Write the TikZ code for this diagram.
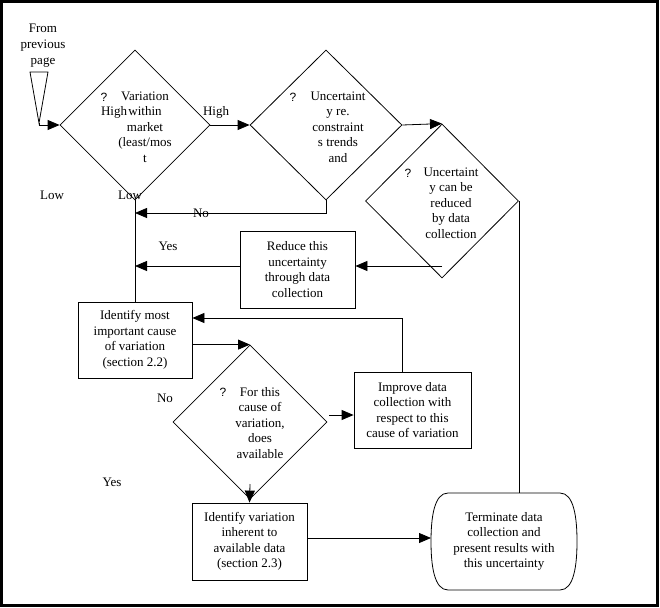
\documentclass[tikz,border=0pt]{standalone}
\usepackage{fontspec}
\setmainfont{Liberation Serif}
\newfontfamily\qfont{Liberation Sans}
\usetikzlibrary{shapes.geometric,arrows.meta}
\begin{document}
\begin{tikzpicture}[x=1pt,y=-1pt,
  every node/.style={font=\fontsize{13}{15.5}\selectfont, inner sep=0pt},
  dia/.style={draw, diamond, line width=0.8pt},
  box/.style={draw, rectangle, line width=0.8pt, align=center},
  txt/.style={align=center},
  qm/.style={font=\qfont\fontsize{12}{14}\selectfont},
  conn/.style={line width=0.8pt},
  arr/.style={conn, -{Triangle[length=12pt,width=10pt]}},
]
\useasboundingbox (0,0) rectangle (660,607);
\draw[line width=3pt] (1.5,1.5) rectangle (657,605.5);

% start
\node[txt, font=\fontsize{13}{16}\selectfont] (from) at (43,46) {From\\previous\\page};
\coordinate (t1) at (30,72);
\coordinate (t2) at (48,72);
\coordinate (tri) at (39,123);
\draw[conn] (t1) -- (t2) -- (tri) -- cycle;

% diamonds
\node[dia, minimum width=150pt, minimum height=150pt] (d1) at (135,125) {};
\node[dia, minimum width=152pt, minimum height=150pt] (d2) at (326,125) {};
\node[dia, minimum width=153pt, minimum height=154pt] (d3) at (442,201) {};
\node[dia, minimum width=154pt, minimum height=154pt] (d4) at (250,422) {};

\node[qm] (q1) at (104,97) {?};
\node[txt] (d1t) at (145,127) {Variation\\within\\market\\(least/mos\\t};
\node (hi1) at (114,112) {High};
\node[qm] (q2) at (293,97) {?};
\node[txt] (d2t) at (338,127) {Uncertaint\\y re.\\constraint\\s trends\\and};
\node[qm] (q3) at (408,173) {?};
\node[txt] (d3t) at (451,203) {Uncertaint\\y can be\\reduced\\by data\\collection};
\node[qm] (q4) at (223,392) {?};
\node[txt] (d4t) at (260,423) {For this\\cause of\\variation,\\does\\available};

% boxes
\node[box, minimum width=114pt, minimum height=76pt] (id1) at (135,340) {Identify most\\important cause\\of variation\\(section 2.2)};
\node[box, minimum width=115pt, minimum height=77pt] (red) at (297.5,269.5) {Reduce this\\uncertainty\\through data\\collection};
\node[box, minimum width=117pt, minimum height=76pt] (imp) at (412.5,410) {Improve data\\collection with\\respect to this\\cause of variation};
\node[box, minimum width=115pt, minimum height=77pt] (id2) at (249.5,541.5) {Identify variation\\inherent to\\available data\\(section 2.3)};

% terminator
\node[txt, minimum width=142pt, minimum height=97pt] (term) at (504,541.5) {Terminate data\\collection and\\present results with\\this uncertainty};
\draw[conn] (448,493) -- (560,493)
  .. controls (574,493) and (577,518) .. (577,541.5)
  .. controls (577,565) and (574,590) .. (560,590)
  -- (448,590)
  .. controls (434,590) and (431,565) .. (431,541.5)
  .. controls (431,518) and (434,493) .. (448,493);

% labels
\node (lowa) at (52,195) {Low};
\node (lowb) at (130,195) {Low};
\node (hi2) at (216,112) {High};
\node (no1) at (201,213) {No};
\node (yes1) at (168,246) {Yes};
\node (no2) at (165,398) {No};
\node (yes2) at (112,482) {Yes};

% connectors
\draw[arr] (tri) |- (d1.west);
\draw[arr] (d1.east) -- (d2.west);
\draw[arr] (d2.east) -- (d3.north);
\draw[conn] (d3.east) -- (d3.east |- term.north);
\draw[conn] (d1.south) -- (id1.north);
\coordinate (nojoin) at (135,213);
\draw[arr] (d2.south) |- (nojoin);
\coordinate (yesjoin) at (135,266);
\draw[arr] (red.west |- yesjoin) -- (yesjoin);
\coordinate (d3out) at (442,266);
\draw[arr] (d3out) -- (red.east |- d3out);
\draw[arr] (id1.east |- d4.north) -- (d4.north);
\coordinate (loop) at (402,318);
\draw[arr] (loop |- imp.north) |- (id1.east |- loop);
\coordinate (d4r) at (329,415);
\draw[arr] (d4r) -- (imp.west |- d4r);
\coordinate (d4in) at (250,484);
\draw[arr] (d4in) -- (id2.north);
\coordinate (termin) at (431,538);
\draw[arr] (id2.east |- termin) -- (termin);
\end{tikzpicture}
\end{document}
